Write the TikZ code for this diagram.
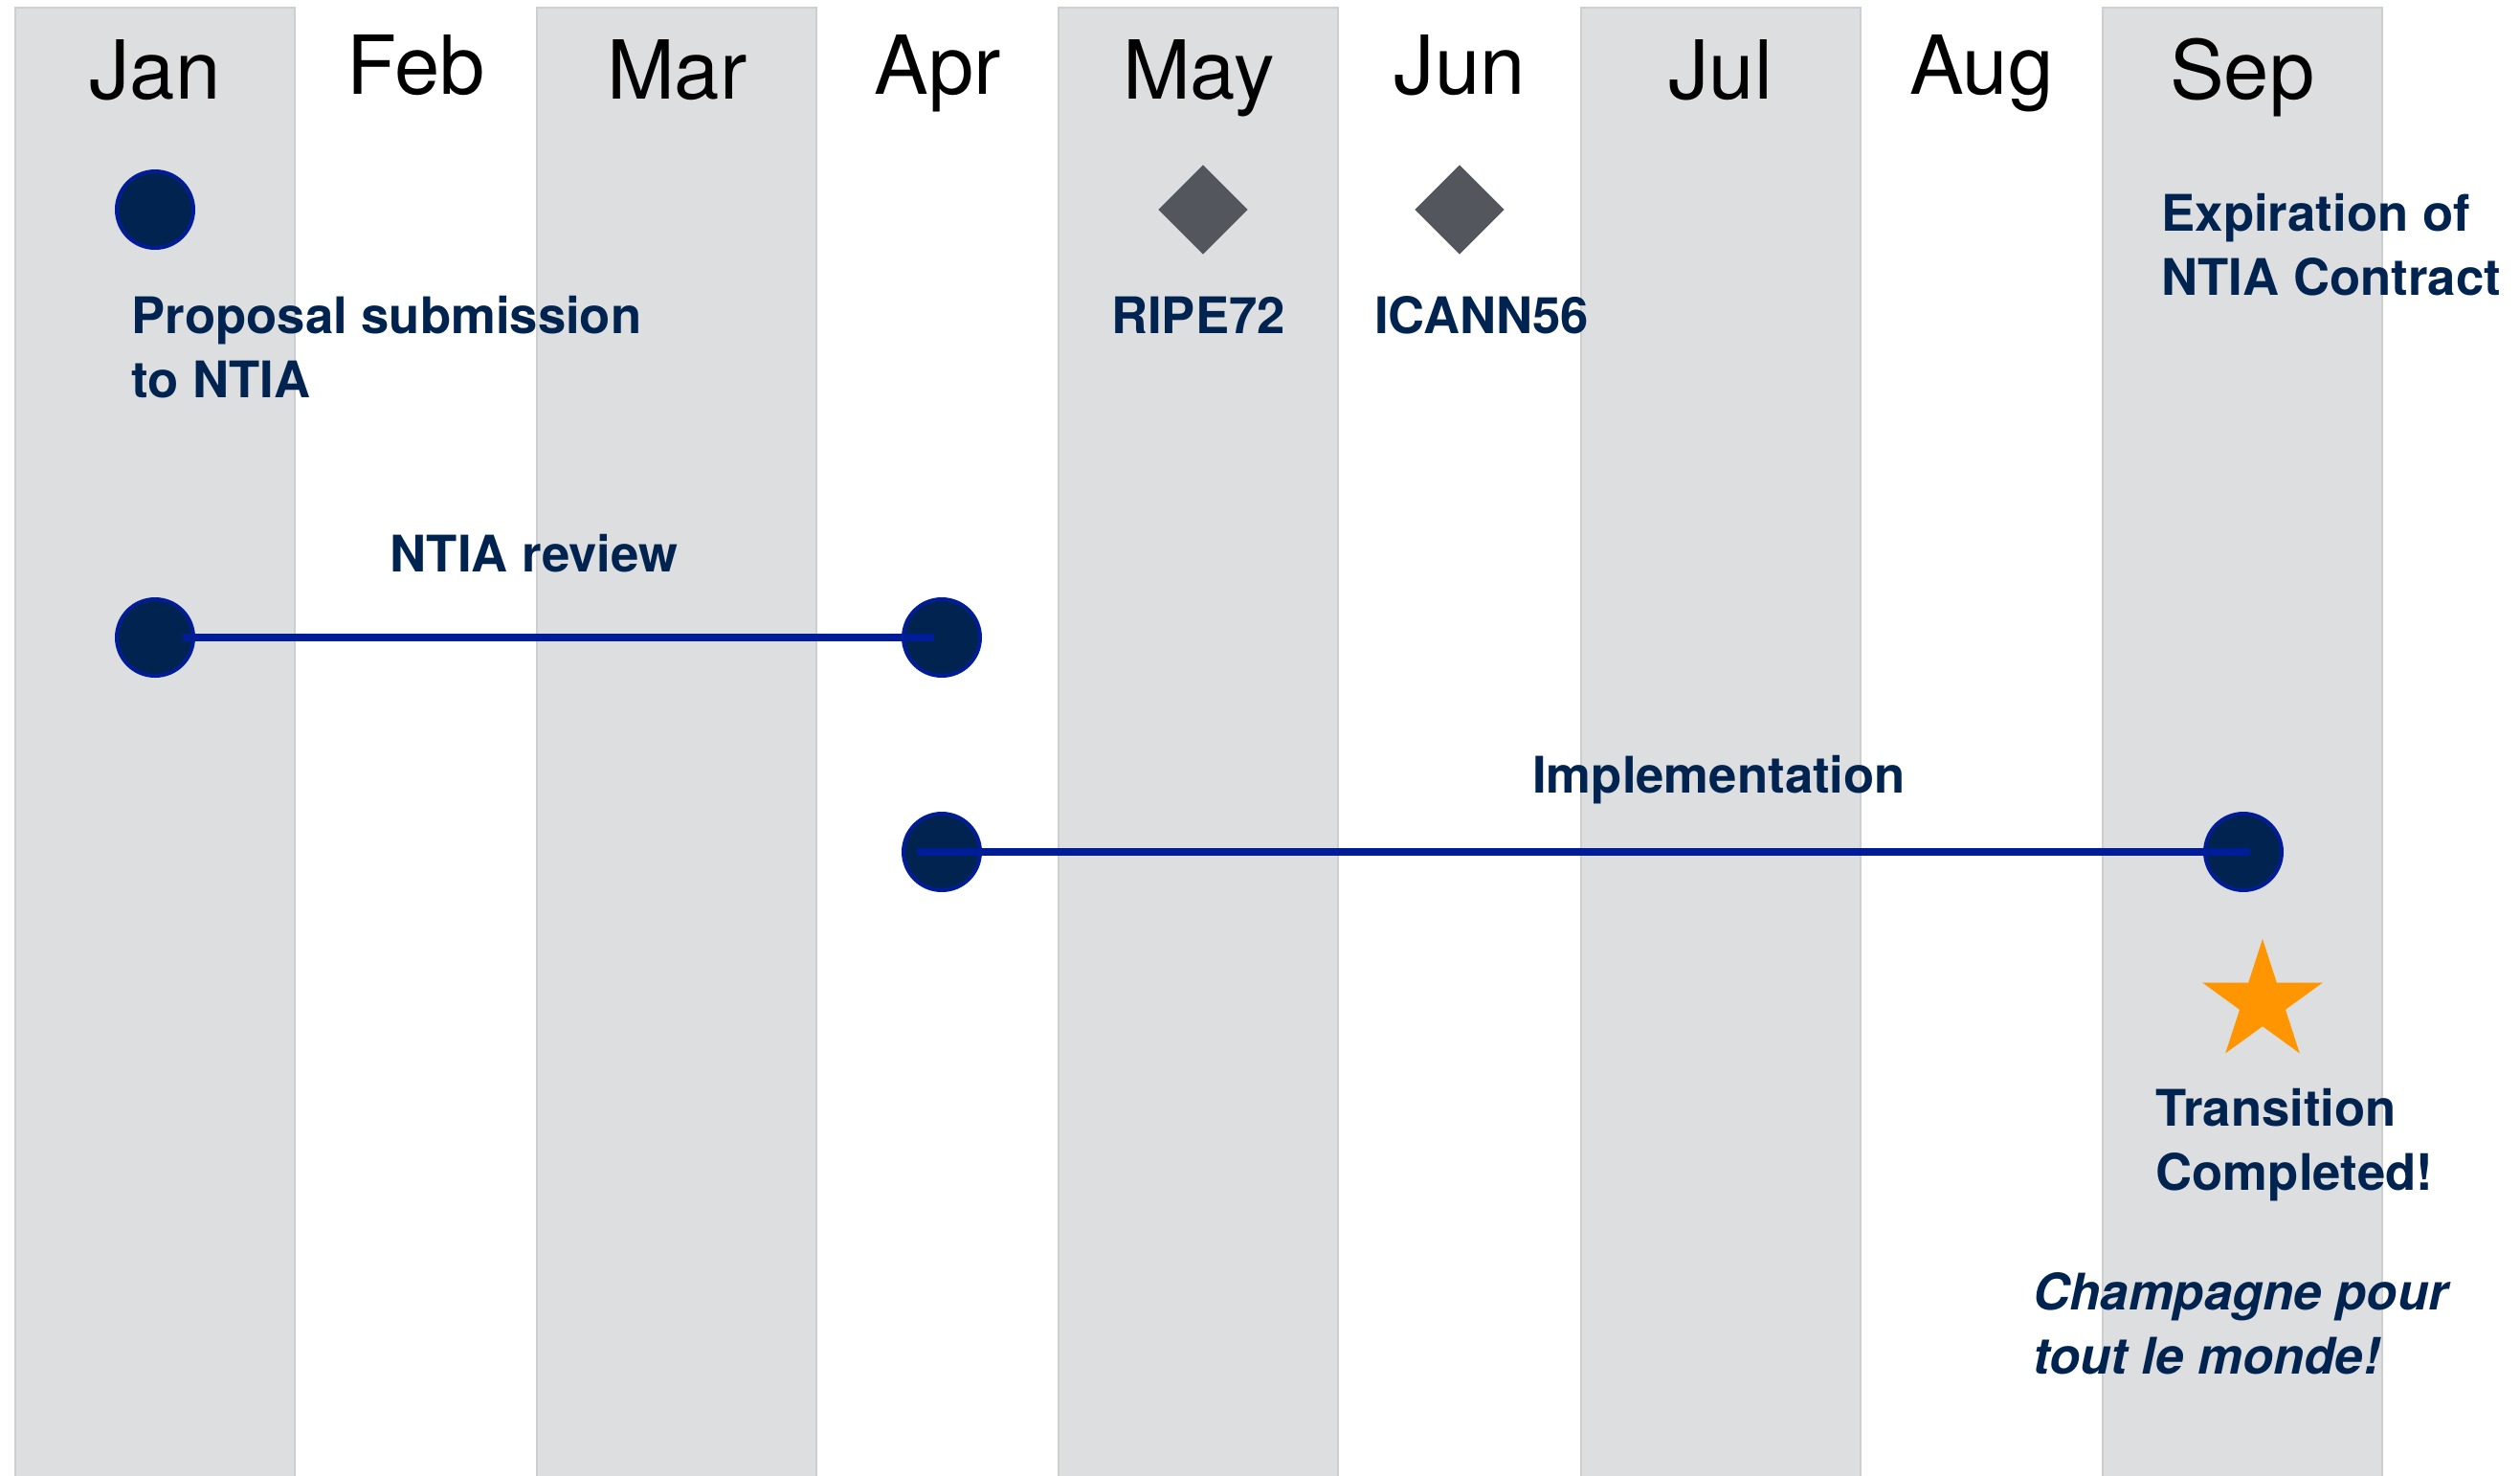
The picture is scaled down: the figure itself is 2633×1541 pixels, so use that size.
\documentclass[tikz,border=0pt]{standalone}
\usepackage{fontspec}
\setmainfont{TeX Gyre Heros}
\usetikzlibrary{shapes.geometric}
\definecolor{navy}{RGB}{0,35,80}
\definecolor{ringblue}{RGB}{0,28,150}
\definecolor{colgray}{RGB}{221,222,224}
\definecolor{coledge}{RGB}{205,206,208}
\definecolor{diamondgray}{RGB}{83,87,93}
\definecolor{starorange}{RGB}{255,149,0}
\tikzset{
  colshade/.style={fill=colgray, draw=coledge, line width=0.6pt},
  month/.style={anchor=base, inner sep=0pt, font=\fontsize{25.5}{30}\selectfont},
  lbl/.style={inner sep=0pt, text=navy, align=left, font=\fontsize{15.8}{20.1}\selectfont\bfseries},
  milestone/.style={circle, fill=navy, draw=ringblue, line width=1.2pt, minimum size=24pt, inner sep=0pt},
  event/.style={diamond, fill=diamondgray, minimum size=28.2pt, inner sep=0pt},
  span/.style={ringblue, line width=2.25pt},
}
\begin{document}
\begin{tikzpicture}[x=0.3pt,y=0.3pt,yscale=-1,xscale=1]
\useasboundingbox (0,0) rectangle (2633,1541);

%Shape: month columns
\foreach \i in {0,2,4,6,8}
  \draw[colshade] ({162+272.6*\i-146},8) rectangle ({162+272.6*\i+146},1545);

% Text Node: months
\foreach \m/\yb [count=\i from 0] in {Jan/103,Feb/98,Mar/103,Apr/98,May/103,Jun/98,Jul/103,Aug/98,Sep/103}
  \node[month] (m\i) at ({162+272.6*\i},\yb) {\m};

%Shape: milestones
\node[milestone] (submit) at (162,219) {};
\node[milestone] (revstart) at (162,666) {};
\node[milestone] (revend) at (984,666) {};
\node[milestone] (implstart) at (984,890) {};
\node[milestone] (implend) at (2344,890) {};

%Shape: meetings
\node[event] (ripemtg) at (1257,219) {};
\node[event] (icannmtg) at (1525,219) {};

%Shape: Star
\node[star, star points=5, star point ratio=2.618, minimum size=39.6pt, inner sep=0pt, fill=starorange] (goal) at (2364,1047) {};

%Straight Lines
\draw[span] ([xshift=8.7pt]revstart.center) -- ([xshift=-2.4pt]revend.center);
\draw[span] ([xshift=-7.8pt]implstart.center) -- ([xshift=2.1pt]implend.center);

% Text Node (base = last line)
\node[lbl, anchor=base west] (proposal) at (137,415) {Proposal submission\\to NTIA};
% Text Node
\node[lbl, anchor=base] (ripe) at (1252,348) {RIPE72};
% Text Node
\node[lbl, anchor=base] (icann) at (1548,348) {ICANN56};
% Text Node
\node[lbl, anchor=base west] (expiry) at (2258,308) {Expiration of\\NTIA Contract};
% Text Node
\node[lbl, anchor=base] (review) at (558,597) {NTIA review};
% Text Node
\node[lbl, anchor=base] (impl) at (1796,828) {Implementation};
% Text Node
\node[lbl, anchor=base west] (done) at (2252,1243) {Transition\\Completed!};
% Text Node
\node[lbl, anchor=base west, font=\fontsize{15.8}{20.1}\selectfont\bfseries\itshape] (champ) at (2124,1435) {Champagne pour\\tout le monde!};

\end{tikzpicture}
\end{document}
